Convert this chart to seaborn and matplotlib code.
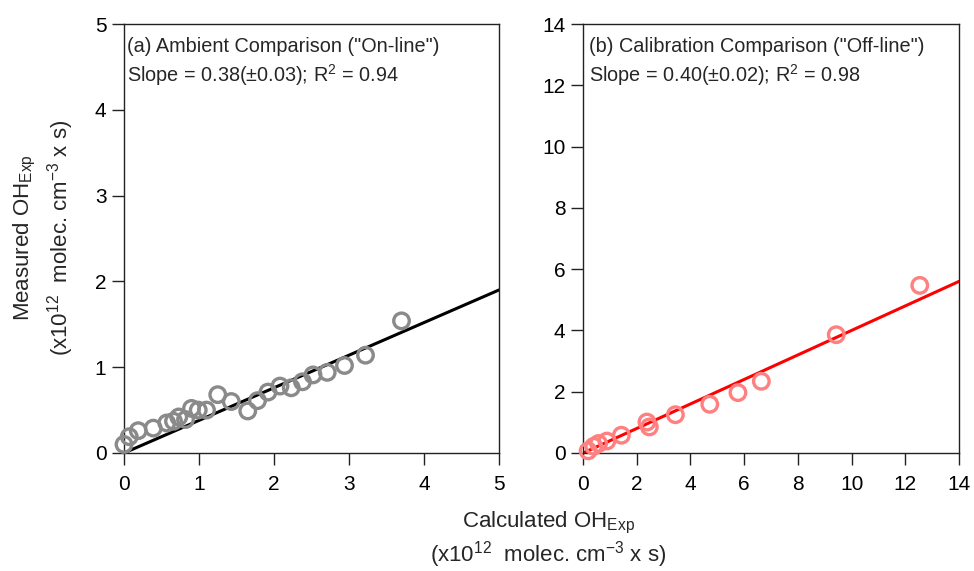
import matplotlib
matplotlib.use("Agg")
import matplotlib.pyplot as plt
import seaborn as sns
import pandas as pd

# Ambient comparison ("On-line")
amb_calc = [0.00, 0.07, 0.19, 0.39, 0.57, 0.66, 0.73, 0.82, 0.90, 0.99, 1.10, 1.25,
            1.43, 1.65, 1.78, 1.92, 2.08, 2.23, 2.38, 2.52, 2.71, 2.94, 3.22, 3.70]
amb_meas = [0.10, 0.19, 0.26, 0.29, 0.35, 0.37, 0.42, 0.39, 0.52, 0.50, 0.50, 0.68,
            0.60, 0.49, 0.61, 0.71, 0.78, 0.76, 0.83, 0.91, 0.94, 1.02, 1.14, 1.54]
amb_slope = 0.38

# Calibration comparison ("Off-line")
cal_calc = [0.19, 0.40, 0.58, 0.89, 1.43, 2.38, 2.47, 3.44, 4.72, 5.77, 6.64, 9.43, 12.54]
cal_meas = [0.07, 0.22, 0.31, 0.39, 0.58, 1.01, 0.85, 1.25, 1.59, 1.97, 2.34, 3.86, 5.47]
cal_slope = 0.40

amb_ticks_x = [0, 1, 2, 3, 4, 5]
amb_ticks_y = [0, 1, 2, 3, 4, 5]
cal_ticks = [0, 2, 4, 6, 8, 10, 12, 14]

sns.set_theme(style="ticks")
plt.rcParams["font.family"] = ["Liberation Sans", "DejaVu Sans"]
plt.rcParams["mathtext.default"] = "regular"
plt.rcParams["axes.edgecolor"] = "#222222"

W, H = 974, 571
fig = plt.figure(figsize=(W / 100, H / 100), dpi=100)
ax1 = fig.add_axes([124 / W, 118 / H, 375 / W, 429 / H])
ax2 = fig.add_axes([583 / W, 118 / H, 376 / W, 429 / H])

amb = pd.DataFrame({"calc": amb_calc, "meas": amb_meas})
cal = pd.DataFrame({"calc": cal_calc, "meas": cal_meas})
amb_fit = pd.DataFrame({"x": [0, 5], "y": [0, 5 * amb_slope]})
cal_fit = pd.DataFrame({"x": [0, 14], "y": [0, 14 * cal_slope]})

sns.lineplot(data=amb_fit, x="x", y="y", ax=ax1, color="black", linewidth=2.2, zorder=2)
sns.scatterplot(data=amb, x="calc", y="meas", ax=ax1, marker="o", s=125,
                facecolor="none", edgecolor="#8a8a8a", linewidth=2.4, zorder=3,
                clip_on=False)

sns.lineplot(data=cal_fit, x="x", y="y", ax=ax2, color="#ff0000", linewidth=2.2, zorder=2)
sns.scatterplot(data=cal, x="calc", y="meas", ax=ax2, marker="o", s=125,
                facecolor="none", edgecolor="#ff8080", linewidth=2.4, zorder=3,
                clip_on=False)

for ax, xt, yt, lim in [(ax1, amb_ticks_x, amb_ticks_y, 5), (ax2, cal_ticks, cal_ticks, 14)]:
    ax.set_xlim(0, lim)
    ax.set_ylim(0, lim)
    ax.set_xticks(xt)
    ax.set_yticks(yt)
    ax.set_xlabel("")
    ax.set_ylabel("")
    ax.tick_params(direction="out", length=8.6, width=1, labelsize=15,
                   colors="#222222", labelcolor="black")
    ax.tick_params(axis="x", pad=7)
    ax.tick_params(axis="y", pad=4)
    for sp in ax.spines.values():
        sp.set_visible(True)
        sp.set_linewidth(1)
    ax.set_facecolor("white")

ann = dict(fontsize=14.3, va="center", ha="left")
ax1.text(0.008, 0.948, '(a) Ambient Comparison ("On-line")', transform=ax1.transAxes, **ann)
ax1.text(0.008, 0.880, "Slope = 0.38(±0.03); R$^2$ = 0.94", transform=ax1.transAxes, **ann)
ax2.text(0.016, 0.948, '(b) Calibration Comparison ("Off-line")', transform=ax2.transAxes, **ann)
ax2.text(0.016, 0.880, "Slope = 0.40(±0.02); R$^2$ = 0.98", transform=ax2.transAxes, **ann)

lab = dict(fontsize=16, rotation_mode="anchor")
fig.text(29 / W, 1 - 238 / H, "Measured OH$_{Exp}$", rotation=90,
         ha="center", va="baseline", **lab)
fig.text(67 / W, 1 - 238 / H, "(x10$^{12}$  molec. cm$^{-3}$ x s)", rotation=90,
         ha="center", va="baseline", **lab)
fig.text(549 / W, 1 - 527 / H, "Calculated OH$_{Exp}$",
         ha="center", va="baseline", **lab)
fig.text(548 / W, 1 - 561 / H, "(x10$^{12}$  molec. cm$^{-3}$ x s)",
         ha="center", va="baseline", **lab)

fig.savefig("out.png", dpi=100, facecolor="white")
